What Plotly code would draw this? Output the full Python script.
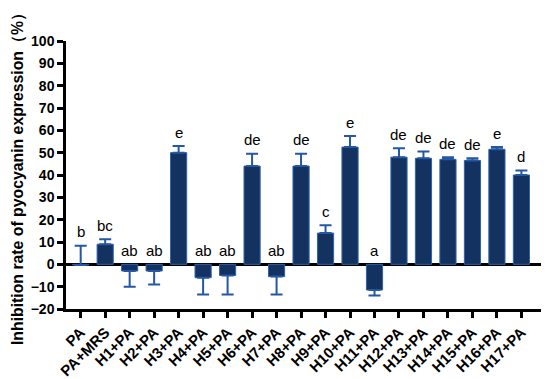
import plotly.graph_objects as go

categories = ["PA", "PA+MRS", "H1+PA", "H2+PA", "H3+PA", "H4+PA", "H5+PA", "H6+PA",
              "H7+PA", "H8+PA", "H9+PA", "H10+PA", "H11+PA", "H12+PA", "H13+PA",
              "H14+PA", "H15+PA", "H16+PA", "H17+PA"]
values = [-0.3, 9.0, -3.0, -3.0, 50.0, -6.0, -5.0, 44.0, -5.5, 44.0, 14.0, 52.5,
          -11.5, 48.0, 47.5, 47.0, 46.5, 51.5, 40.0]
errors = [8.6, 2.2, 7.0, 6.0, 3.0, 7.5, 8.5, 5.5, 8.0, 5.5, 3.5, 5.0,
          2.5, 4.0, 3.0, 1.0, 1.0, 1.0, 2.0]
letters = ["b", "bc", "ab", "ab", "e", "ab", "ab", "de", "ab", "de", "c", "e",
           "a", "de", "de", "de", "de", "e", "d"]

err_up = [e if v >= 0 or i == 0 else 0 for i, (v, e) in enumerate(zip(values, errors))]
err_dn = [e if (v < 0 and i != 0) else 0 for i, (v, e) in enumerate(zip(values, errors))]

fig = go.Figure()
fig.add_trace(go.Bar(
    x=categories, y=values, width=0.66,
    marker=dict(color="#14325f", line=dict(color="#2f62ad", width=1)),
    error_y=dict(type="data", symmetric=False, array=err_up, arrayminus=err_dn,
                 color="#2457a5", thickness=2, width=6),
))

for c, v, e, l in zip(categories, values, err_up, letters):
    top = max(v, 0) + e
    fig.add_annotation(x=c, y=top + 1.5, text=l, showarrow=False, yanchor="bottom",
                       font=dict(family="Liberation Sans, Arial", size=15, color="black"))

fig.update_layout(
    width=550, height=379,
    margin=dict(l=66, r=9, t=41, b=70),
    plot_bgcolor="white", paper_bgcolor="white",
    showlegend=False,
    font=dict(family="Liberation Sans, Arial", color="black"),
)
fig.update_xaxes(
    automargin=False,
    range=[-0.6, 18.8], showline=True, linecolor="black", linewidth=2.5,
    ticks="outside", ticklen=6, tickwidth=2.5, tickcolor="black",
    tickangle=-45, tickfont=dict(size=15, family="Liberation Sans, Arial", color="black", weight="bold"),
    showgrid=False,
)
fig.update_yaxes(
    automargin=False,
    range=[-20, 100], tickvals=list(range(-20, 101, 10)),
    showline=True, linecolor="black", linewidth=2.5,
    ticks="outside", ticklen=6, tickwidth=2.5, tickcolor="black",
    tickfont=dict(size=14, color="black", weight="bold"),
    showgrid=False, zeroline=True, zerolinecolor="black", zerolinewidth=2.5,
    title=dict(text="<b>Inhibition rate of pyocyanin expression（%）</b>",
               font=dict(size=15.8, color="black"), standoff=4),
    ticklabelstandoff=0,
)
fig.write_html("out.html", config={"displayModeBar": False},
               post_script="document.body.style.margin='0';")
